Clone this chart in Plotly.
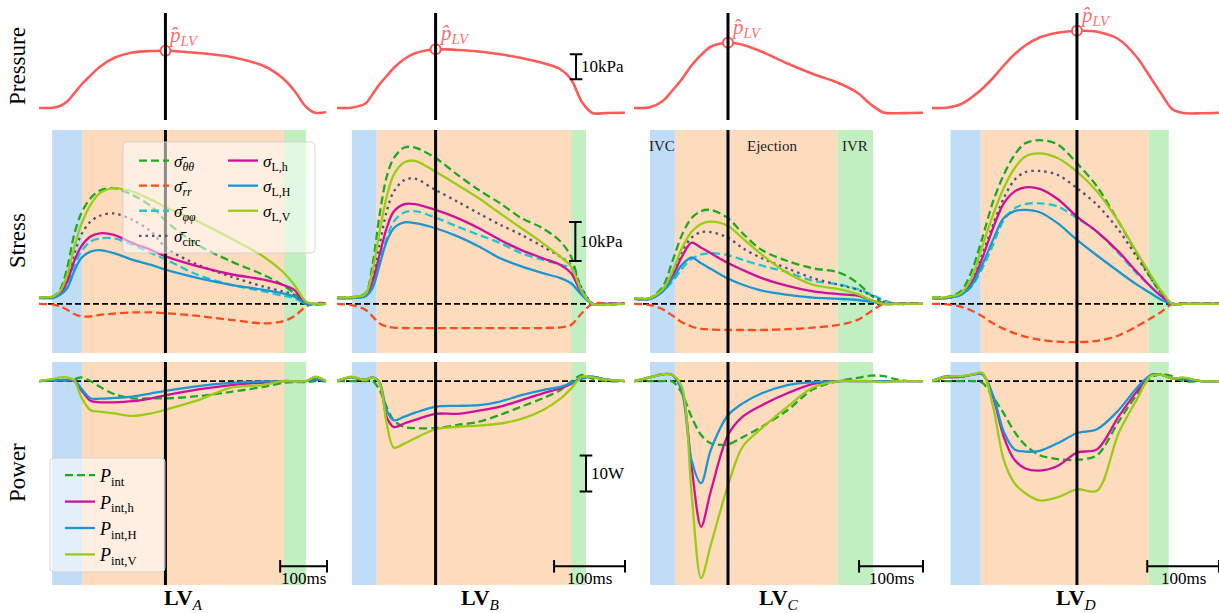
import numpy as np
import plotly.graph_objects as go

W, H = 1219, 613
SERIF = "Liberation Serif, DejaVu Serif, serif"

# ---------------- time grids (ms) per ventricle ----------------
t_A = [0, 30, 45, 60, 75, 90, 110, 130, 160, 200, 240, 272, 340, 410, 480, 520, 545, 570, 590, 613]
t_B = [0, 20, 40, 50, 60, 70, 80, 95, 110, 139, 170, 200, 230, 260, 290, 315, 330, 345, 360, 380, 406]
t_C = [0, 25, 45, 60, 75, 90, 105, 120, 147, 170, 200, 240, 280, 320, 350, 370, 390, 410, 430, 452]
t_D = [0, 20, 40, 55, 70, 85, 100, 115, 130, 150, 175, 202, 230, 260, 285, 305, 320, 335, 350, 375, 400]

window_ms = [615, 406, 452, 400]
t_pmax = [270, 139, 147, 202]
# phase boundaries: IVC start, ejection start, IVR start, IVR end (ms)
phase_A = [28, 92, 523, 570]
phase_B = [21, 56, 330, 351]
phase_C = [25, 64, 318, 374]
phase_D = [26, 68, 302, 330]

# ---------------- LV pressure (kPa, relative) ----------------
p_A = [0, 0.1, 0.8, 2.6, 5.8, 9.2, 13.0, 16.5, 20.0, 22.2, 22.8, 22.9, 22.0, 20.4, 16.8, 12.0, 7.0, 0.5, -1.9, -1.7]
p_B = [0, 0.1, 1.8, 5.5, 9.5, 12.8, 16.0, 19.6, 21.9, 23.5, 23.2, 22.6, 21.5, 20.0, 18.0, 15.5, 11.5, 2.5, -2.0, -2.0, -1.9]
p_C = [0, 0.3, 2.8, 7.0, 11.6, 17.0, 21.2, 24.5, 26.1, 25.3, 22.5, 17.8, 13.6, 10.0, 6.0, 1.5, -1.8, -2.1, -2.0, -1.9]
p_D = [0, 0.1, 1.5, 4.2, 7.7, 12.0, 17.0, 21.5, 25.0, 28.2, 30.1, 30.9, 30.5, 27.5, 20.5, 12.0, 5.5, -0.5, -2.0, -2.1, -1.9]

# ---------------- stresses (kPa) ----------------
s_tt_A = [1.7, 1.9, 3.6, 9.1, 17.7, 23.2, 27.1, 29.1, 29.7, 27.9, 25.0, 21.1, 15.1, 10.9, 7.4, 4.9, 2.7, 0.0, -0.2, 0.0]
s_rr_A = [0.0, -0.2, -0.7, -1.5, -2.6, -3.2, -3.2, -2.8, -2.5, -2.2, -2.2, -2.4, -3.1, -4.1, -5.0, -4.5, -3.2, -0.7, 0.2, 0.2]
s_pp_A = [1.7, 1.7, 2.6, 4.9, 9.6, 13.4, 16.0, 16.8, 16.8, 15.1, 13.0, 11.3, 7.4, 4.9, 3.2, 2.1, 1.5, 0.0, -0.1, 0.0]
s_circ_A = [1.7, 1.7, 3.2, 6.6, 12.6, 17.7, 21.1, 22.6, 23.2, 21.5, 18.5, 14.3, 10.0, 7.0, 4.4, 3.2, 2.3, 0.0, -0.1, 0.0]
s_Lh_A = [1.7, 1.7, 2.7, 5.7, 10.9, 14.7, 17.3, 18.1, 17.7, 15.6, 13.8, 12.1, 9.6, 7.6, 6.2, 4.9, 3.6, 0.2, 0.0, 0.0]
s_LH_A = [1.5, 1.5, 2.3, 4.0, 8.3, 11.7, 13.4, 13.8, 13.0, 11.3, 10.0, 8.7, 6.6, 4.9, 3.6, 2.7, 1.9, 0.0, 0.0, 0.0]
s_LV_A = [1.7, 1.9, 3.2, 7.4, 14.3, 20.3, 25.4, 28.4, 29.7, 28.8, 26.7, 24.7, 21.1, 16.8, 12.1, 8.3, 4.9, 0.6, 0.0, 0.0]

s_tt_B = [1.7, 1.7, 2.7, 10.0, 22.8, 32.6, 37.4, 40.1, 40.1, 37.4, 33.1, 29.2, 25.8, 22.0, 19.4, 16.0, 12.1, 3.5, 0.0, -0.2, 0.0]
s_rr_B = [0.0, -0.3, -1.5, -3.2, -5.0, -5.8, -6.1, -6.2, -6.2, -6.2, -6.2, -6.2, -6.2, -6.2, -6.2, -6.0, -5.4, -2.4, 0.0, 0.2, 0.2]
s_pp_B = [1.5, 1.5, 2.1, 4.9, 10.9, 16.8, 21.1, 23.5, 23.8, 22.1, 19.8, 17.7, 15.6, 13.0, 11.3, 10.0, 9.1, 4.0, 0.0, 0.0, 0.0]
s_circ_B = [1.7, 1.7, 2.5, 6.6, 15.1, 23.7, 28.8, 31.8, 32.1, 29.2, 26.2, 23.2, 20.3, 17.7, 14.7, 12.1, 10.0, 4.0, 0.2, 0.0, 0.0]
s_Lh_B = [1.5, 1.5, 2.3, 5.7, 12.6, 19.4, 23.7, 25.6, 25.6, 24.1, 22.0, 19.4, 16.4, 13.8, 11.7, 10.0, 7.9, 2.7, 0.0, 0.0, 0.0]
s_LH_B = [1.5, 1.5, 1.9, 4.0, 10.0, 16.0, 19.4, 20.9, 20.7, 19.4, 17.3, 14.7, 11.7, 9.6, 7.9, 6.6, 5.3, 2.3, 0.0, 0.0, 0.0]
s_LV_B = [1.7, 1.7, 2.5, 8.3, 18.5, 27.5, 33.1, 36.3, 36.7, 33.9, 30.5, 27.1, 23.2, 19.4, 15.6, 12.1, 9.6, 3.2, 0.0, -0.2, 0.0]

s_tt_C = [1.5, 1.5, 4.4, 10.9, 17.7, 22.0, 23.8, 24.1, 22.0, 18.1, 13.8, 11.0, 9.1, 8.1, 5.3, 2.3, 0.2, 0.0, 0.0, 0.0]
s_rr_C = [0.0, -0.3, -1.4, -3.0, -4.7, -5.8, -6.4, -6.6, -6.7, -6.7, -6.7, -6.5, -6.1, -5.4, -4.1, -2.0, 0.0, 0.2, 0.2, 0.2]
s_pp_C = [1.3, 1.3, 3.2, 5.7, 9.0, 11.5, 12.7, 13.0, 12.5, 11.3, 9.8, 8.1, 5.9, 5.0, 3.8, 2.5, 1.0, 0.0, 0.0, 0.0]
s_circ_C = [1.5, 1.5, 3.6, 7.6, 13.4, 17.0, 18.4, 18.4, 17.0, 14.3, 11.7, 9.1, 6.6, 4.9, 3.6, 2.3, 0.6, 0.0, 0.0, 0.0]
s_Lh_C = [1.3, 1.3, 3.4, 7.0, 12.1, 15.7, 14.4, 13.0, 10.5, 8.7, 6.6, 4.6, 3.2, 2.5, 2.1, 1.0, 0.0, 0.0, 0.0, 0.0]
s_LH_C = [1.3, 1.3, 3.2, 6.4, 10.0, 11.9, 10.4, 9.0, 6.5, 4.9, 3.4, 2.3, 1.6, 1.3, 1.0, 0.6, 0.0, 0.0, 0.0, 0.0]
s_LV_C = [1.5, 1.5, 3.8, 8.3, 14.3, 18.5, 20.5, 21.1, 20.0, 16.8, 12.6, 7.9, 4.9, 3.8, 2.5, 1.0, 0.0, 0.0, 0.0, 0.0]

s_tt_D = [1.7, 1.7, 3.2, 8.3, 16.8, 26.2, 33.1, 38.2, 41.2, 42.0, 40.9, 36.1, 30.1, 21.1, 13.0, 6.6, 2.7, 0.0, 0.0, 0.0, 0.0]
s_rr_D = [0.0, -0.1, -0.7, -1.7, -3.2, -5.0, -6.4, -7.5, -8.4, -9.2, -9.7, -9.8, -9.5, -8.1, -5.8, -3.7, -2.0, 0.0, 0.2, 0.2, 0.2]
s_pp_D = [1.5, 1.5, 2.3, 4.4, 9.1, 15.1, 21.5, 24.5, 25.6, 25.8, 25.0, 22.0, 18.5, 13.0, 7.9, 4.4, 1.9, 0.0, 0.0, 0.0, 0.0]
s_circ_D = [1.7, 1.7, 2.7, 5.9, 12.6, 20.3, 27.1, 31.8, 33.8, 34.1, 33.1, 29.7, 25.4, 19.0, 12.1, 6.6, 2.7, 0.0, 0.0, 0.0, 0.0]
s_Lh_D = [1.5, 1.5, 2.5, 5.3, 11.7, 19.4, 25.8, 28.8, 29.9, 29.5, 26.9, 22.4, 18.5, 13.4, 8.3, 4.4, 1.9, 0.0, 0.0, 0.0, 0.0]
s_LH_D = [1.5, 1.5, 2.3, 4.7, 10.0, 16.4, 22.0, 23.8, 24.1, 23.5, 20.7, 16.4, 12.4, 8.3, 5.0, 2.7, 1.0, 0.0, 0.0, 0.0, 0.0]
s_LV_D = [1.7, 1.7, 2.7, 6.6, 14.7, 22.8, 29.7, 34.8, 37.8, 38.6, 37.4, 33.9, 28.8, 21.1, 13.4, 7.4, 3.2, 0.0, 0.0, 0.0, 0.0]

# ---------------- internal power (W) ----------------
P_int_A = [0, 0.3, 0.3, 0.3, 0.5, 1.0, 0.0, -1.6, -3.6, -4.8, -4.8, -4.8, -4.2, -3.0, -1.6, -0.5, -0.3, -0.3, 0.0, -0.1]
P_h_A = [0, 0.2, 0.2, 0.2, 0.0, -2.5, -5.5, -5.9, -5.9, -5.6, -4.8, -3.9, -2.3, -1.1, -0.4, 0.0, 0.0, 0.0, 0.5, 0.0]
P_H_A = [0, 0.2, 0.2, 0.2, 0.2, -2.0, -4.8, -4.9, -4.7, -4.3, -3.4, -2.7, -1.4, -0.5, -0.1, 0.0, 0.0, 0.0, 0.4, 0.0]
P_V_A = [0, 0.6, 1.0, 1.0, 0.3, -4.4, -8.1, -8.5, -9.0, -9.7, -9.0, -7.9, -5.3, -1.8, -1.1, 0.0, -0.1, 0.0, 1.2, 0.0]

P_int_B = [0, 0, 0, 0, -2.5, -7.2, -10.9, -12.8, -13.1, -13.1, -12.2, -11.3, -9.4, -7.1, -4.8, -2.5, -0.2, 1.7, 0.7, 0, 0]
P_h_B = [0, 1.0, 0.3, 1.0, -0.5, -10.0, -12.8, -11.8, -10.8, -9.1, -9.1, -8.2, -7.1, -5.3, -3.4, -2.0, -0.8, 1.0, 1.2, 0.4, 0]
P_H_B = [0, 1.0, 0.3, 1.0, -0.4, -8.1, -10.9, -9.9, -8.8, -7.1, -6.9, -6.7, -5.7, -3.9, -2.5, -1.6, -0.6, 0.7, 1.2, 0.4, 0]
P_V_B = [0, 1.2, 0.3, 1.0, -0.6, -11.8, -18.5, -17.4, -15.9, -13.4, -12.7, -12.4, -11.8, -10.5, -8.1, -4.9, -2.1, 1.2, 1.0, 0.3, 0]

P_int_C = [0, 0, 0, -0.1, -3.4, -10.0, -15.0, -17.3, -17.6, -15.6, -12.7, -8.1, -2.3, 0.0, 0.9, 1.5, 1.4, 0.5, 0.0, 0.0]
P_h_C = [0, 1.0, 1.9, 1.7, -2.5, -23.8, -40.5, -30.7, -15.0, -9.9, -6.7, -3.4, -0.8, 0.0, 0.0, 0.0, 0.0, 0.0, 0.0, 0.0]
P_H_C = [0, 1.0, 1.9, 1.7, -3.0, -22.0, -28.4, -19.2, -9.5, -6.2, -3.4, -1.1, -0.3, 0.0, 0.0, 0.0, 0.0, 0.0, 0.0, 0.0]
P_V_C = [0, 1.0, 1.9, 1.7, -1.6, -31.2, -54.8, -45.6, -29.0, -18.2, -13.1, -7.1, -1.8, 0.0, 0.0, 0.0, -0.3, 0.0, 0.0, 0.0]

P_int_D = [0, 0, 0, 0, -0.5, -4.4, -9.0, -14.1, -17.8, -20.6, -21.7, -21.9, -20.6, -11.3, -3.9, 1.0, 1.9, 1.4, 0, 0, 0]
P_h_D = [0, 1.0, 1.2, 1.7, 2.1, -4.4, -15.5, -21.9, -24.3, -24.9, -23.6, -19.9, -19.0, -9.9, -3.0, 1.7, 1.7, 0.7, 0.7, 0, 0]
P_H_D = [0, 1.4, 1.2, 1.7, 1.9, -3.9, -14.1, -19.0, -19.6, -19.4, -17.3, -14.5, -13.4, -8.1, -2.0, 1.7, 1.7, 0.7, 0.7, 0, 0]
P_V_D = [0, 1.2, 1.4, 1.7, 2.3, -7.1, -21.9, -28.4, -31.2, -33.2, -32.3, -30.1, -30.5, -14.5, -5.3, 1.4, 1.7, 0.7, 1.0, 0, 0]

col_names = ["A", "B", "C", "D"]
phase_labels = ["IVC", "Ejection", "IVR"]
phase_label_ms = [44, 216, 346]
row_titles = ["Pressure", "Stress", "Power"]

columns = [
    dict(t=t_A, ph=phase_A, p=p_A, s=[s_tt_A, s_rr_A, s_pp_A, s_circ_A, s_Lh_A, s_LH_A, s_LV_A], P=[P_int_A, P_h_A, P_H_A, P_V_A]),
    dict(t=t_B, ph=phase_B, p=p_B, s=[s_tt_B, s_rr_B, s_pp_B, s_circ_B, s_Lh_B, s_LH_B, s_LV_B], P=[P_int_B, P_h_B, P_H_B, P_V_B]),
    dict(t=t_C, ph=phase_C, p=p_C, s=[s_tt_C, s_rr_C, s_pp_C, s_circ_C, s_Lh_C, s_LH_C, s_LV_C], P=[P_int_C, P_h_C, P_H_C, P_V_C]),
    dict(t=t_D, ph=phase_D, p=p_D, s=[s_tt_D, s_rr_D, s_pp_D, s_circ_D, s_Lh_D, s_LH_D, s_LV_D], P=[P_int_D, P_h_D, P_H_D, P_V_D]),
]

# ---------------- styles ----------------
GREEN = "#20a820"
ORANGERED = "#ff4a1c"
CYAN = "#22c6d0"
DOTC = "#554e7a"
MAGENTA = "#d0109c"
BLUE = "#1a96d2"
YGREEN = "#9ccb14"
PRED = "#ff5a5a"
DASH = "8px,4px"

stress_styles = [
    ("<i>σ̄</i><sub><i>θθ</i></sub>", GREEN, DASH, "legend"),
    ("<i>σ̄</i><sub><i>rr</i></sub>", ORANGERED, DASH, "legend"),
    ("<i>σ̄</i><sub><i>φφ</i></sub>", CYAN, DASH, "legend"),
    ("<i>σ̄</i><sub>circ</sub>", DOTC, "2.5px,4px", "legend"),
    ("<i>σ</i><sub>L,h</sub>", MAGENTA, "solid", "legend2"),
    ("<i>σ</i><sub>L,H</sub>", BLUE, "solid", "legend2"),
    ("<i>σ</i><sub>L,V</sub>", YGREEN, "solid", "legend2"),
]
power_styles = [
    ("<i>P</i><sub>int</sub>", GREEN, DASH),
    ("<i>P</i><sub>int,h</sub>", MAGENTA, "solid"),
    ("<i>P</i><sub>int,H</sub>", BLUE, "solid"),
    ("<i>P</i><sub>int,V</sub>", YGREEN, "solid"),
]
band_colors = ["#c0ddf8", "#fddcbe", "#c2efc2"]

# ---------------- layout geometry ----------------
col_dom = [[39 / W, 327 / W], [337 / W, 625 / W], [634 / W, 923 / W], [932 / W, 1.0]]
row_dom = [[1 - 120 / H, 1 - 13 / H], [1 - 353 / H, 1 - 130 / H], [1 - 585 / H, 1 - 362 / H]]
y_ranges = [[-4.8, 38.0], [-12.6, 44.6], [-56.7, 5.3]]


def axn(r, c):
    n = r * 4 + c + 1
    s = "" if n == 1 else str(n)
    return n, "x" + s, "y" + s


def rounded_box(px0, py0, px1, py1, rad=4):
    x0, x1 = px0 / W, px1 / W
    y0, y1 = 1 - py1 / H, 1 - py0 / H
    rx, ry = rad / W, rad / H
    return (f"M{x0 + rx},{y0} L{x1 - rx},{y0} Q{x1},{y0} {x1},{y0 + ry} L{x1},{y1 - ry} "
            f"Q{x1},{y1} {x1 - rx},{y1} L{x0 + rx},{y1} Q{x0},{y1} {x0},{y1 - ry} "
            f"L{x0},{y0 + ry} Q{x0},{y0} {x0 + rx},{y0} Z")


fig = go.Figure()
layout_axes = {}
shapes = []
annotations = []

for r in range(3):
    for c in range(4):
        n, xs, ys = axn(r, c)
        suf = "" if n == 1 else str(n)
        layout_axes["xaxis" + suf] = dict(domain=col_dom[c], range=[0, window_ms[c]], visible=False,
                                          anchor=ys, fixedrange=True)
        layout_axes["yaxis" + suf] = dict(domain=row_dom[r], range=y_ranges[r], visible=False,
                                          anchor=xs, fixedrange=True)

# background phases, zero lines, time-of-peak lines
for c, col in enumerate(columns):
    ph = col["ph"]
    for r in (1, 2):
        n, xs, ys = axn(r, c)
        for k in range(3):
            shapes.append(dict(type="rect", xref=xs, yref=ys + " domain", x0=ph[k], x1=ph[k + 1], y0=0, y1=1,
                               fillcolor=band_colors[k], line=dict(width=0), layer="below"))
        shapes.append(dict(type="line", xref=xs + " domain", yref=ys, x0=0, x1=1, y0=0, y1=0,
                           line=dict(color="black", width=1.8, dash="6px,3px"), layer="below"))
    for r in range(3):
        n, xs, ys = axn(r, c)
        shapes.append(dict(type="line", xref=xs, yref=ys + " domain", x0=t_pmax[c], x1=t_pmax[c], y0=0, y1=1,
                           line=dict(color="black", width=3), layer="above"))

# traces
for c, col in enumerate(columns):
    t = col["t"]
    # pressure
    n, xs, ys = axn(0, c)
    fig.add_trace(go.Scatter(x=t, y=col["p"], mode="lines", line=dict(color=PRED, width=2.6, shape="spline", smoothing=0.9),
                             xaxis=xs, yaxis=ys, showlegend=False, hoverinfo="skip"))
    pk = float(np.interp(t_pmax[c], t, col["p"]))
    fig.add_trace(go.Scatter(x=[t_pmax[c]], y=[pk], mode="markers",
                             marker=dict(size=10, color="white", line=dict(color=PRED, width=2)),
                             xaxis=xs, yaxis=ys, showlegend=False, hoverinfo="skip", cliponaxis=False))
    annotations.append(dict(x=t_pmax[c], y=pk, xref=xs, yref=ys, text="<i>p̂</i><sub><i>LV</i></sub>",
                            showarrow=False, xanchor="left", yanchor="bottom", xshift=1, yshift=0,
                            font=dict(family=SERIF, size=21, color="#ff6f6f")))
    # stress
    n, xs, ys = axn(1, c)
    for (name, color, dash, lg), vals in zip(stress_styles, col["s"]):
        fig.add_trace(go.Scatter(x=t, y=vals, mode="lines", name=name,
                                 line=dict(color=color, width=2.3, dash=dash, shape="spline", smoothing=0.9),
                                 xaxis=xs, yaxis=ys, showlegend=(c == 0), legend=lg, hoverinfo="skip"))
    # power
    n, xs, ys = axn(2, c)
    for (name, color, dash), vals in zip(power_styles, col["P"]):
        fig.add_trace(go.Scatter(x=t, y=vals, mode="lines", name=name,
                                 line=dict(color=color, width=2.3, dash=dash, shape="spline", smoothing=0.9),
                                 xaxis=xs, yaxis=ys, showlegend=(c == 0), legend="legend3", hoverinfo="skip"))
    # 100 ms scale bar
    T = window_ms[c]
    fig.add_trace(go.Scatter(x=[T - 100, T], y=[-51.5, -51.5], mode="lines+markers",
                             line=dict(color="black", width=2),
                             marker=dict(symbol="line-ns-open", size=9, color="black", line=dict(width=2, color="black")),
                             xaxis=xs, yaxis=ys, showlegend=False, hoverinfo="skip", cliponaxis=False))
    annotations.append(dict(x=T - 50, y=-54.8, xref=xs, yref=ys, text="100ms", showarrow=False,
                            xanchor="center", yanchor="middle", font=dict(family=SERIF, size=17, color="black")))
    # column label
    annotations.append(dict(x=(col_dom[c][0] + col_dom[c][1]) / 2, y=1 - 599 / H, xref="paper", yref="paper",
                            text="<b>LV</b><sub><i>%s</i></sub>" % col_names[c], showarrow=False,
                            xanchor="center", yanchor="middle", font=dict(family=SERIF, size=22, color="black")))

# vertical scale bars (column B)
scale_bars = [(0, 337, 11.5, 21.5, "10kPa"), (1, 336, 11.0, 21.0, "10kPa"), (2, 351, -30.7, -20.7, "10W")]
for r, xb, y0, y1, label in scale_bars:
    n, xs, ys = axn(r, 1)
    fig.add_trace(go.Scatter(x=[xb, xb], y=[y0, y1], mode="lines+markers", line=dict(color="black", width=2),
                             marker=dict(symbol="line-ew-open", size=9, color="black", line=dict(width=2, color="black")),
                             xaxis=xs, yaxis=ys, showlegend=False, hoverinfo="skip", cliponaxis=False))
    annotations.append(dict(x=xb, y=(y0 + y1) / 2, xref=xs, yref=ys, text=label, showarrow=False,
                            xanchor="left", yanchor="middle", xshift=3, font=dict(family=SERIF, size=17, color="black")))

# phase labels in column C stress
n, xs, ys = axn(1, 2)
for lab, xm in zip(phase_labels, phase_label_ms):
    annotations.append(dict(x=xm, y=40.5, xref=xs, yref=ys, text=lab, showarrow=False, xanchor="center",
                            yanchor="middle", font=dict(family=SERIF, size=15, color="#222222")))

# row titles
row_centers = [66, 241, 473]
for title, yc in zip(row_titles, row_centers):
    annotations.append(dict(x=17 / W, y=1 - yc / H, xref="paper", yref="paper", text=title, showarrow=False,
                            textangle=-90, xanchor="center", yanchor="middle",
                            font=dict(family=SERIF, size=23, color="black")))

# legend frames (semi-transparent, drawn over curves)
for box in [(123, 142, 315, 253), (50, 458, 165, 572)]:
    shapes.append(dict(type="path", xref="paper", yref="paper", path=rounded_box(*box),
                       fillcolor="rgba(255,255,255,0.55)", line=dict(color="rgba(210,210,210,0.9)", width=1),
                       layer="above"))

legend_common = dict(xanchor="left", yanchor="top", bgcolor="rgba(0,0,0,0)", borderwidth=0,
                     tracegroupgap=0, itemclick=False, itemdoubleclick=False)
fig.update_layout(
    width=W, height=H,
    margin=dict(l=0, r=0, t=0, b=0),
    paper_bgcolor="white", plot_bgcolor="rgba(0,0,0,0)",
    shapes=shapes, annotations=annotations,
    legend=dict(x=134 / W, y=1 - 143 / H, font=dict(family=SERIF, size=17, color="black"), **legend_common),
    legend2=dict(x=223 / W, y=1 - 143 / H, font=dict(family=SERIF, size=17, color="black"), **legend_common),
    legend3=dict(x=60 / W, y=1 - 457 / H, font=dict(family=SERIF, size=18, color="black"), **legend_common),
    **layout_axes,
)

fig.write_html("out.html", config={"displayModeBar": False})
